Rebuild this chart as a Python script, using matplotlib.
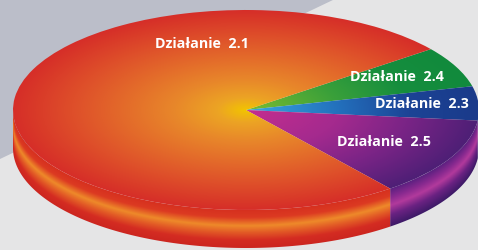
import numpy as np
import matplotlib.pyplot as plt
from matplotlib.colors import LinearSegmentedColormap
from matplotlib.patches import Polygon

# slices in clockwise order, starting at the 2.4 / 2.1 boundary
labels = ["Działanie  2.4", "Działanie  2.3", "Działanie  2.5", "Działanie  2.1"]
shares = [6.6, 5.5, 12.7, 75.2]

# colour ramps: top surface (centre -> rim) and side (rim -> bottom)
top_colors = [
    [(0, "#7cbc30"), (0.4, "#3aa03a"), (0.7, "#168e3e"), (1, "#118a3c")],
    [(0, "#38a8e0"), (0.4, "#2370bc"), (0.7, "#1c4496"), (1, "#1a3a8a")],
    [(0, "#c42e8e"), (0.4, "#a42a8e"), (0.7, "#7a2486"), (1, "#4e1f76")],
    [(0, "#f2c400"), (0.12, "#eca424"), (0.3, "#e8882a"), (0.5, "#e46e2a"),
     (0.75, "#de4e2a"), (1, "#d62e28")],
]
side_colors = [
    [(0, "#118a3c"), (1, "#0c6a2c")],
    [(0, "#1a3a8a"), (1, "#12296a")],
    [(0, "#5a2080"), (0.25, "#8a2a90"), (0.45, "#b23a9c"), (0.7, "#6a2282"),
     (1, "#3e1a68")],
    [(0, "#d6301f"), (0.2, "#dc3a22"), (0.42, "#ee8a2a"), (0.6, "#e25a26"),
     (0.8, "#d42c22"), (1, "#cc2620")],
]

W, H = 478, 251
cx, cy, rx, ry, depth = 246, 111, 233, 100, 38

fig = plt.figure(figsize=(W / 100, H / 100), dpi=100)
ax = fig.add_axes([0, 0, 1, 1])
xmin, xmax = -cx / rx, (W - cx) / rx
ymin, ymax = -(H - cy) / ry, cy / ry
d = depth / ry

# background: light grey with a bluish band in the upper left
ax.add_patch(plt.Rectangle((xmin, ymin), xmax - xmin, ymax - ymin,
                           color="#e5e5e6", zorder=0))
band = Polygon([(xmin, ymax), ((335 - cx) / rx, ymax), (xmin, (cy - 160) / ry)],
               closed=True, color="#bbbec9", lw=0, zorder=0)
ax.add_patch(band)

wedges, _ = ax.pie(shares, startangle=37.5, counterclock=False, radius=1,
                   center=(0, 0), wedgeprops=dict(linewidth=0))
ax.set_aspect("auto")
ax.set_xlim(xmin, xmax)
ax.set_ylim(ymin, ymax)
ax.axis("off")

X, Y = np.meshgrid(np.linspace(xmin, xmax, 700), np.linspace(ymin, ymax, 400))
R = np.clip(np.sqrt(X ** 2 + Y ** 2), 0, 1)
yrim = -np.sqrt(np.clip(1 - X ** 2, 0, 1))
T = np.clip((yrim - Y) / d, 0, 1)
ext = (xmin, xmax, ymin, ymax)

for i, w in enumerate(wedges):
    w.set_facecolor("none")
    w.set_zorder(3)
    # side of the slice (front half only)
    scmap = LinearSegmentedColormap.from_list(f"s{i}", side_colors[i])
    for k in (-1, 0, 1):
        a = max(w.theta1, 180 + 360 * k)
        b = min(w.theta2, 360 + 360 * k)
        if a >= b:
            continue
        t = np.radians(np.linspace(a, b, 200))
        top = np.column_stack([np.cos(t), np.sin(t)])
        bot = np.column_stack([np.cos(t), np.sin(t) - d])
        side = Polygon(np.vstack([top, bot[::-1]]), closed=True,
                       facecolor="none", lw=0, zorder=1)
        ax.add_patch(side)
        im = ax.imshow(scmap(T), extent=ext, origin="lower", aspect="auto",
                       interpolation="bilinear", zorder=1)
        im.set_clip_path(side)
    # top surface with radial glow
    tcmap = LinearSegmentedColormap.from_list(f"t{i}", top_colors[i])
    im = ax.imshow(tcmap(R), extent=ext, origin="lower", aspect="auto",
                   interpolation="bilinear", zorder=2)
    im.set_clip_path(w)

# labels (pixel positions of the text centres)
label_px = [(397, 77), (422, 104), (384, 142), (202, 44)]
for lab, (px, py) in zip(labels, label_px):
    ax.text((px - cx) / rx, (cy - py) / ry, lab, color="white",
            fontsize=10.3, fontweight="bold", family="Open Sans",
            ha="center", va="center", zorder=5)

fig.savefig("out.png", dpi=100)
